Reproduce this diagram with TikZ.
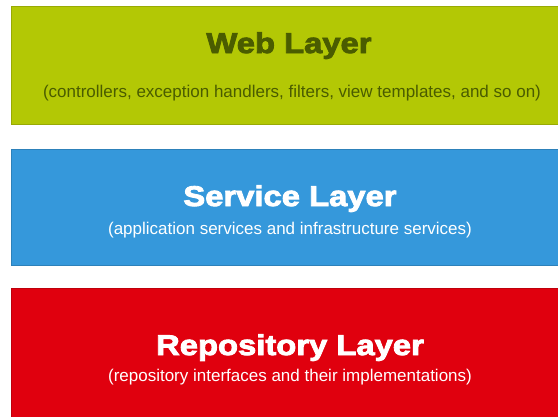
\documentclass[tikz,border=0pt]{standalone}
\usepackage{fontspec}
\setmainfont{Liberation Sans}
\newfontfamily\heavy[FakeBold=3,FakeStretch=1.15]{Liberation Sans}
\definecolor{webgreen}{RGB}{179,200,5}
\definecolor{webtext}{RGB}{74,92,0}
\definecolor{svcblue}{RGB}{53,152,219}
\definecolor{repored}{RGB}{224,0,14}
\tikzset{
  layerbox/.style={rectangle, inner sep=0pt, anchor=north west, line width=0.6pt},
  layertitle/.style={anchor=base, inner sep=0pt, font=\heavy\bfseries\fontsize{28.5}{30}\selectfont},
  layersub/.style={anchor=base, inner sep=0pt, font=\fontsize{17}{19}\selectfont},
}
\begin{document}
\begin{tikzpicture}[x=1pt,y=-1pt]
\useasboundingbox (0,0) rectangle (558,416);
\fill[white] (0,0) rectangle (558,416);
\begin{scope}
\clip (0,0) rectangle (558,416);
\node[layerbox, fill=webgreen, draw=webgreen!85!black, minimum width=552pt, minimum height=118pt] (web) at (11,6) {};
\node[layerbox, fill=svcblue, draw=svcblue!85!black, minimum width=552pt, minimum height=116pt] (svc) at (11,149) {};
\node[layerbox, fill=repored, draw=repored!85!black, minimum width=552pt, minimum height=140pt] (repo) at (11,288) {};
\end{scope}
\node[layertitle, text=webtext] (webt) at (289,53) {Web Layer};
\node[layersub, text=webtext] (webs) at (292,97) {(controllers, exception handlers, filters, view templates, and so on)};
\node[layertitle, text=white] (svct) at (290,206) {Service Layer};
\node[layersub, text=white] (svcs) at (290,234) {(application services and infrastructure services)};
\node[layertitle, text=white] (repot) at (290,355) {Repository Layer};
\node[layersub, text=white] (repos) at (290,381) {(repository interfaces and their implementations)};
\end{tikzpicture}
\end{document}
